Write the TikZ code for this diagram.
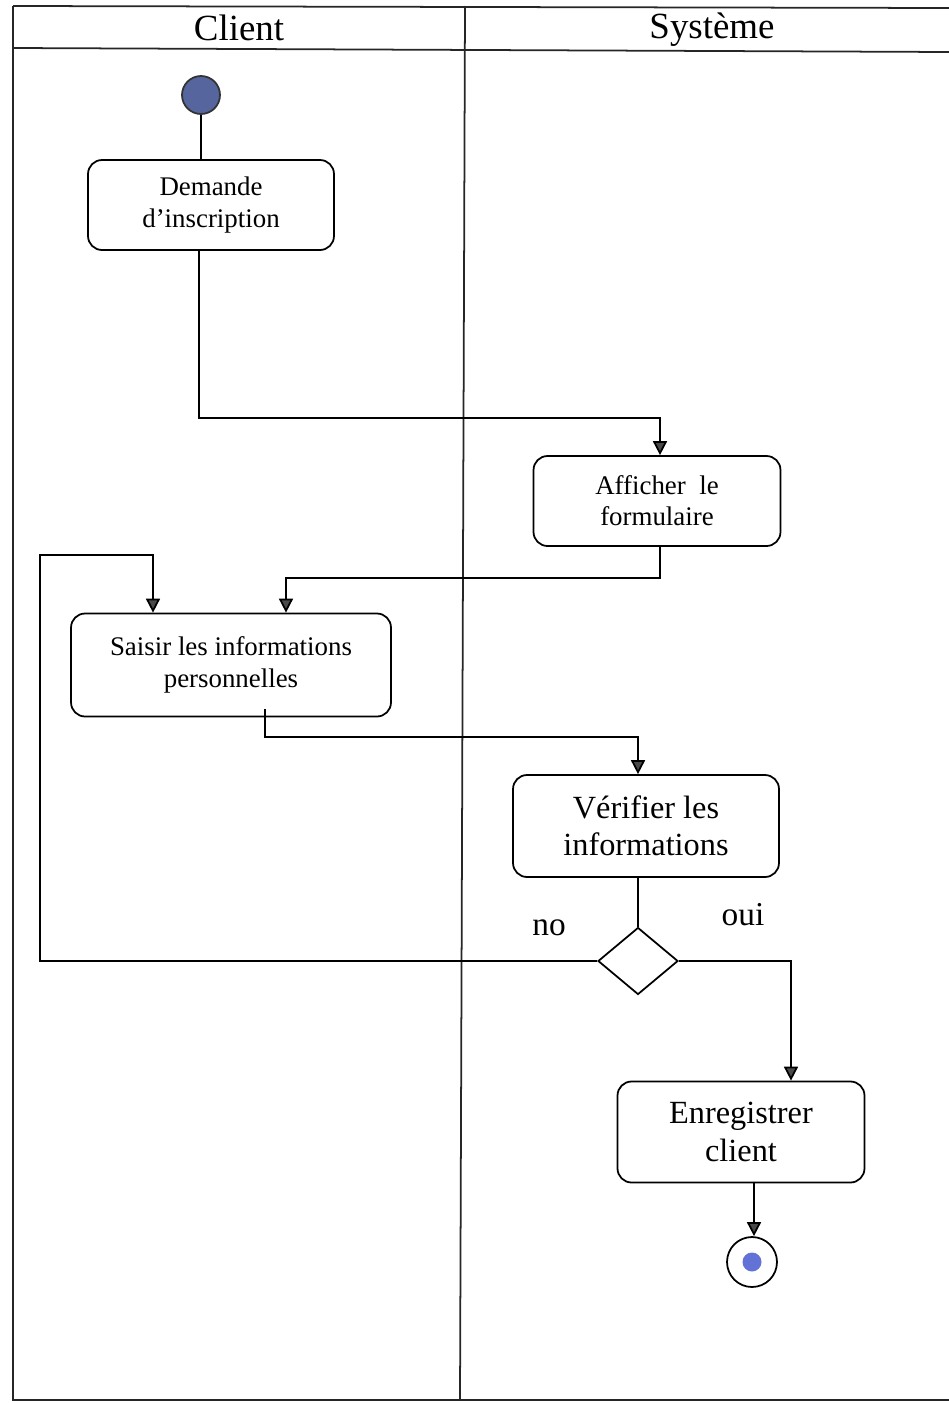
\documentclass[tikz,border=0pt]{standalone}
\usepackage{fontspec}
\setmainfont{Liberation Serif}
\usetikzlibrary{arrows.meta,shapes.geometric,calc}
\definecolor{startblue}{HTML}{56659E}
\definecolor{endblue}{HTML}{6272D6}
\definecolor{tipgrey}{HTML}{4A4A4A}
\begin{document}
\begin{tikzpicture}[x=0.02cm,y=-0.02cm,
  frame/.style={line width=1pt,draw=black!85},
  activity/.style={draw,line width=1pt,rounded corners=0.28cm,align=center,inner sep=0pt},
  smalltext/.style={font=\fontsize{15.3}{17.8}\selectfont},
  bigtext/.style={font=\fontsize{18.4}{21.2}\selectfont},
  flow/.style={line width=1pt,-{Triangle[length=0.28cm,width=0.28cm,fill=tipgrey]}},
  plain/.style={line width=1pt},
  guard/.style={font=\fontsize{19}{22}\selectfont},
  lanetitle/.style={font=\fontsize{21}{25}\selectfont}]
\useasboundingbox (0,0) rectangle (949,1403);
% swimlane frame
\draw[frame] (13,6) -- (949,8);
\draw[frame] (13,6) -- (13,1400) -- (949,1400);
\draw[frame] (13,48) -- (949,52);
\draw[frame] (465,6) -- (460,1400);
\node[lanetitle] (lclient) at (239,28) {Client};
\node[lanetitle] (lsys) at (712,30) {Système};
% nodes
\node[circle,draw=black!80,fill=startblue,line width=1pt,minimum size=0.76cm,inner sep=0pt] (start) at (201,95) {};
\node[activity,smalltext,minimum width=4.92cm,minimum height=1.8cm] (dem) at (211,205) {Demande\\d’inscription};
\node[activity,smalltext,minimum width=4.94cm,minimum height=1.8cm] (aff) at (657,501) {Afficher\ \ le\\formulaire};
\node[activity,smalltext,minimum width=6.4cm,minimum height=2.06cm] (sai) at (231,665) {Saisir les informations\\personnelles};
\node[activity,bigtext,minimum width=5.32cm,minimum height=2.04cm] (ver) at (646,826) {Vérifier les\\informations};
\node[diamond,draw,line width=1pt,minimum width=1.6cm,minimum height=1.34cm,inner sep=0pt] (dec) at (638,961) {};
\node[activity,bigtext,minimum width=4.94cm,minimum height=2.02cm] (enr) at (741,1132) {Enregistrer\\client};
\node[circle,draw,line width=1pt,minimum size=1.0cm,inner sep=0pt] (fin) at (752,1262) {};
\node[circle,fill=endblue,minimum size=0.38cm,inner sep=0pt] (finin) at (fin.center) {};
\node[guard] (lno) at (549,928) {no};
\node[guard] (loui) at (743,915) {oui};
% connectors
\draw[plain] (start) -- (start |- dem.north);
\draw[flow] (dem.south -| 199,0) -- (199,418) -| (aff.north -| 660,0);
\draw[flow] (aff.south -| 660,0) -- (660,578) -| (sai.north -| 286,0);
\draw[flow] (sai.south -| 265,0) ++(0,-8) -- (265,737) -| (ver.north -| 638,0);
\draw[plain] (ver.south -| dec.north) -- (dec.north);
\draw[flow] (dec.west) -- (40,961) -- (40,555) -| (sai.north -| 153,0);
\draw[flow] (dec.east) -| (enr.north -| 791,0);
\draw[flow] (enr.south -| 754,0) -- (fin.north -| 754,0);
\end{tikzpicture}
\end{document}
